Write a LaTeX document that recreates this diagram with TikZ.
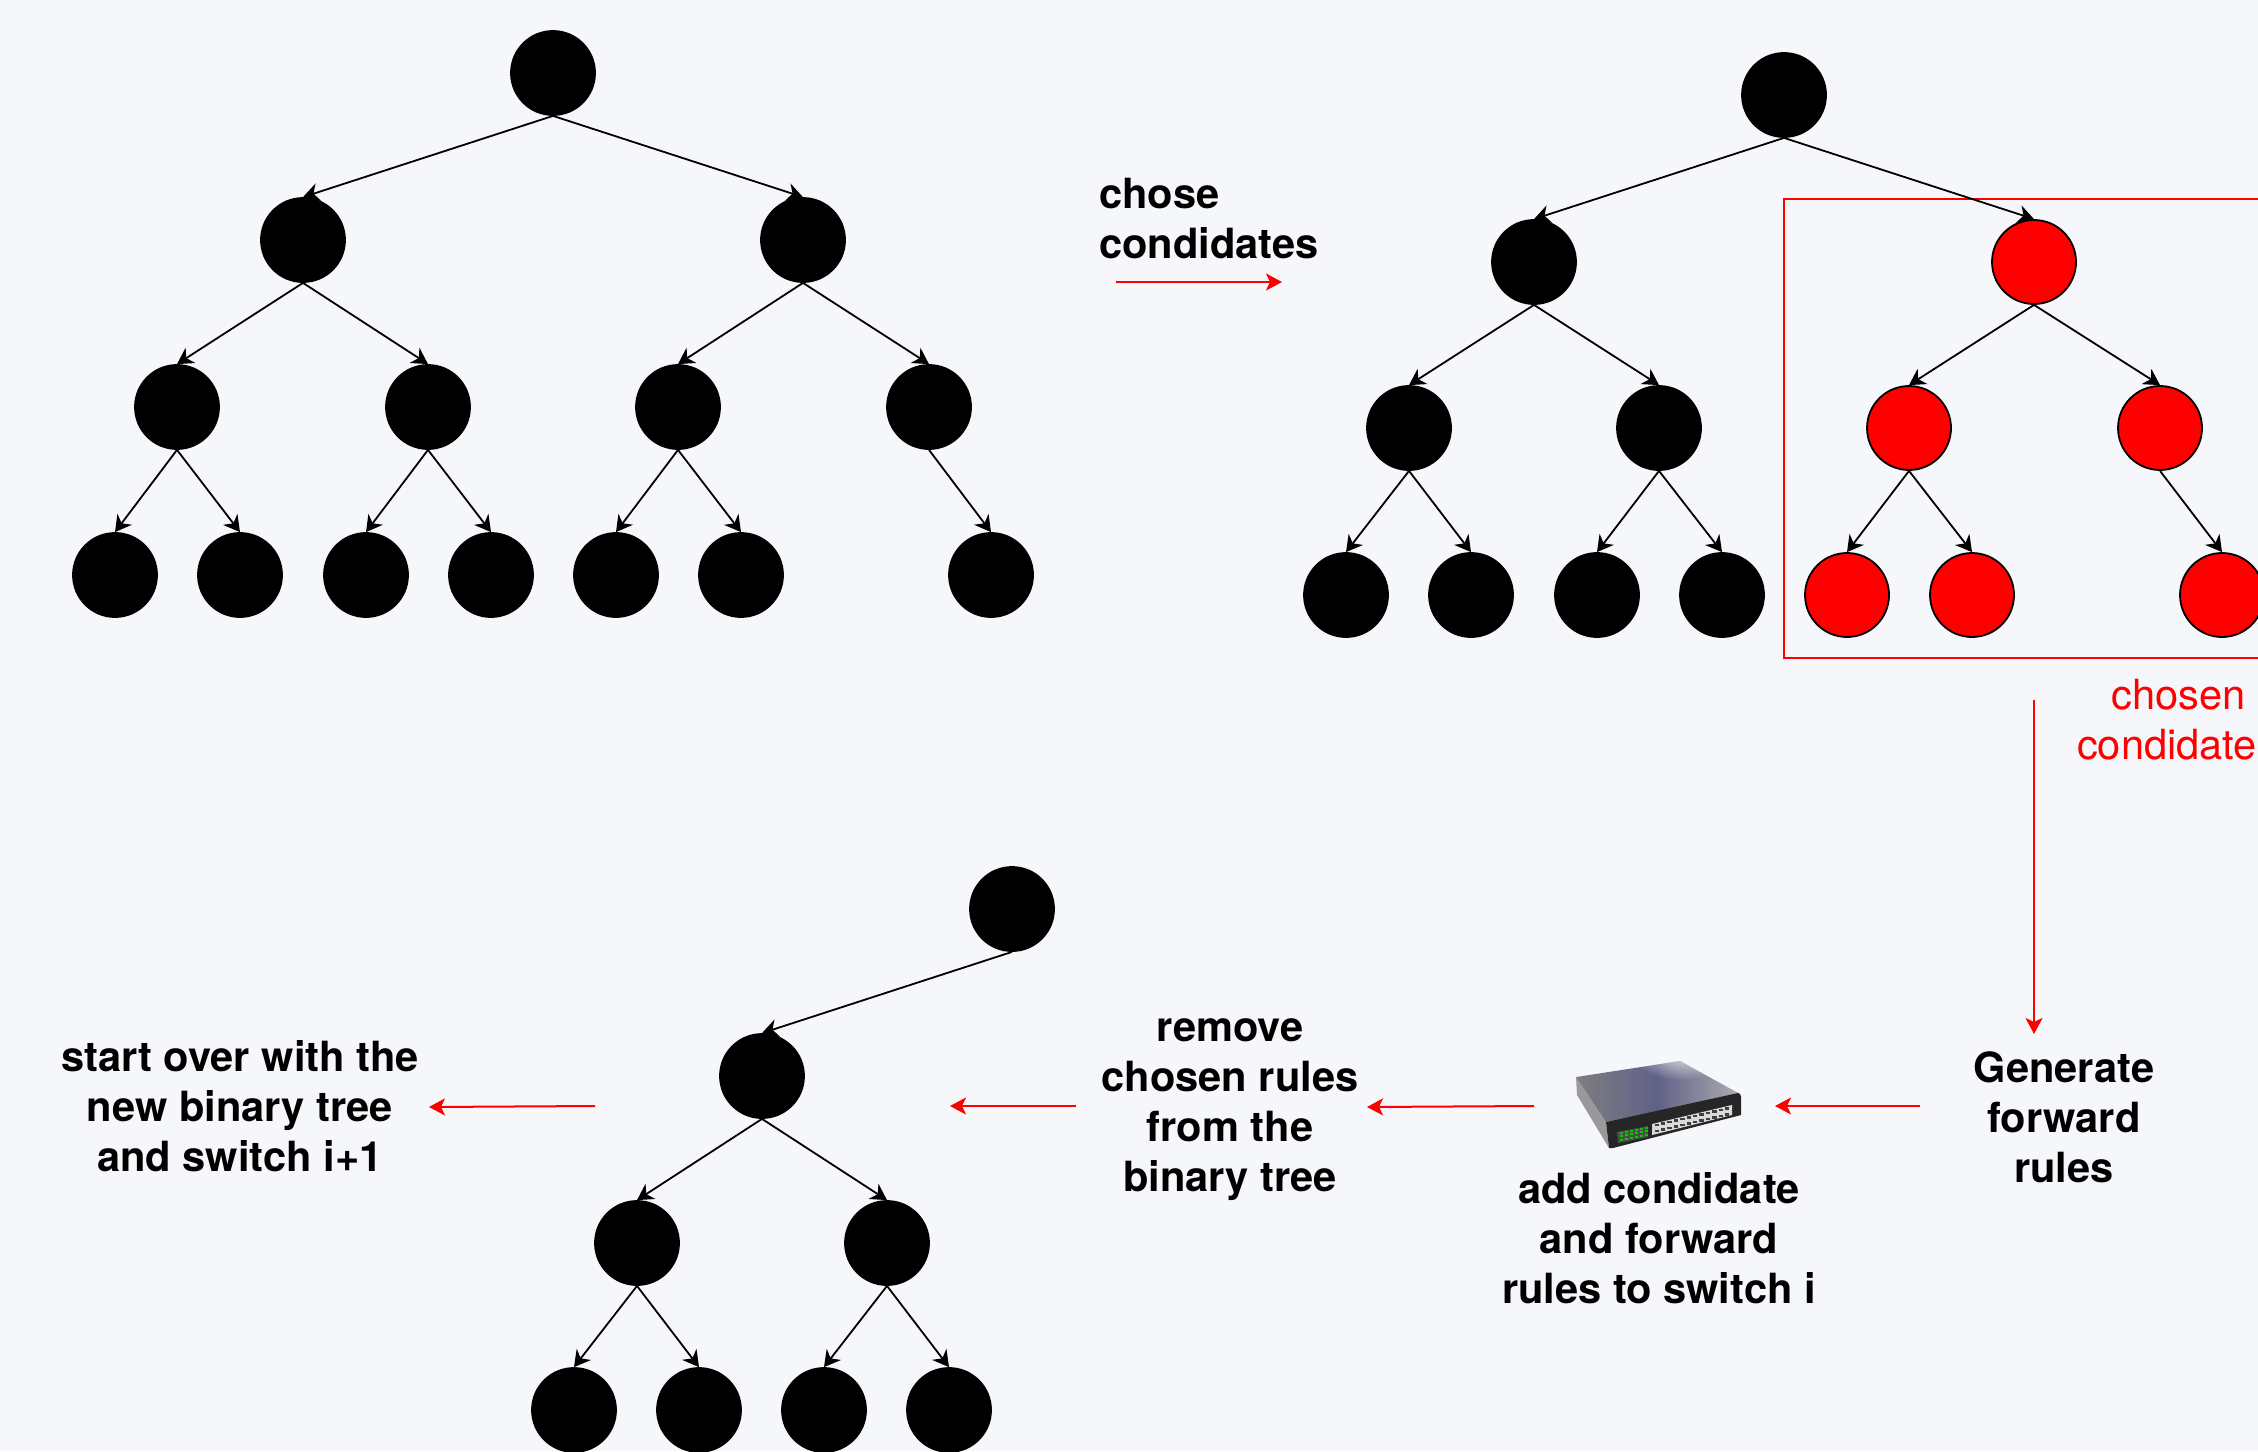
\documentclass[tikz,border=0pt]{standalone}
\usepackage{xcolor}
\usepackage{fontspec}
\setmainfont{TeX Gyre Heros}
\usetikzlibrary{arrows.meta,fadings}
\definecolor{pagebg}{HTML}{F5F7FB}
\tikzfading[name=glow,inner color=transparent!15,outer color=transparent!100]
\tikzset{
x=.5pt,y=-.5pt,
treenode/.style={circle,draw=black,fill=black,line width=.9pt,minimum size=42pt,inner sep=0pt},
rednode/.style={treenode,fill=red},
treeedge/.style={draw=black,line width=.9pt,-{Stealth[length=8pt,width=9pt,inset=2.5pt]}},
redarrow/.style={draw=red,line width=1pt,-{Stealth[length=8pt,width=8.5pt,inset=2pt]}},
steptext/.style={align=center,inner sep=0pt,font=\fontsize{20.8}{25}\selectfont\bfseries},
redtext/.style={align=center,inner sep=0pt,text=red,font=\fontsize{20.8}{25}\selectfont},
}

\begin{document}
\begin{tikzpicture}
\useasboundingbox (0,0) rectangle (2258,1451);
\fill[pagebg] (0,0) rectangle (2258,1451);
% the red box
\draw[red,line width=.9pt] (2300,199) -- (1784,199) -- (1784,658) -- (2300,658);
% the trees
\foreach \name/\x/\y in {
  a0/553/73,a1/303/240,a2/803/240,a3/177/407,a4/428/407,a5/678/407,a6/929/407,
  a7/115/575,a8/240/575,a9/366/575,a10/491/575,a11/616/575,a12/741/575,a13/991/575,
  b0/1784/95,b1/1534/262,b3/1409/428,b4/1659/428,
  b7/1346/595,b8/1471/595,b9/1597/595,b10/1722/595,
  c0/1012/909,c1/762/1076,c3/637/1243,c4/887/1243,
  c7/574/1410,c8/699/1410,c9/824/1410,c10/949/1410}
{
  \node[treenode] (\name) at (\x,\y) {};
}
\foreach \name/\x/\y in {
  b2/2034/262,b5/1909/428,b6/2160/428,b11/1847/595,b12/1972/595,b13/2222/595}
{
  \node[rednode] (\name) at (\x,\y) {};
}
% the edges
\foreach \t in {a,b}
{
  \foreach \from/\to in {0/1,0/2,1/3,1/4,2/5,2/6,3/7,3/8,4/9,4/10,5/11,5/12,6/13}
  {
    \draw[treeedge] (\t\from.south) -- (\t\to.north);
  }
}
\foreach \from/\to in {0/1,1/3,1/4,3/7,3/8,4/9,4/10}
{
  \draw[treeedge] (c\from.south) -- (c\to.north);
}
% the labels
\node[steptext,align=left,anchor=west] (chose) at (1099,219) {chose\\condidates};
\node[redtext] (chosen) at (2167,720) {\hspace*{11.5pt}chosen\\condidate};
\node[steptext] (generate) at (2064,1117) {Generate\\forward\\rules};
\node[steptext] (addrules) at (1659,1238) {add condidate\\and forward\\rules to switch i};
\node[steptext] (remove) at (1230,1110) {remove\\chosen rules\\from the\\binary tree};
\node[steptext] (startover) at (240,1106) {start over with the\\new binary tree\\and switch i+1};
% the red arrows
\coordinate (s1) at (1116,282);
\coordinate (e1) at (1282,282);
\coordinate (s2) at (2034,700);
\coordinate (e2) at (2034,1034);
\coordinate (s3) at (1920,1106);
\coordinate (e3) at (1775,1106);
\coordinate (s4) at (1534,1106);
\coordinate (e4) at (1367,1107);
\coordinate (s5) at (1076,1106);
\coordinate (e5) at (950,1106);
\coordinate (s6) at (595,1106);
\coordinate (e6) at (429,1107);
\foreach \x in {1,...,6}
{
  \draw[redarrow] (s\x) -- (e\x);
}
% the switch
\fill[black!40] (1576,1077) -- (1606,1122) -- (1609,1148) -- (1577,1095) -- cycle;
\begin{scope}
\clip (1576,1077) -- (1680,1061) -- (1740,1094) -- (1606,1122) -- cycle;
\shade[left color=black!50,right color=black!30,middle color=blue!25!black!62] (1570,1055) rectangle (1745,1125);
\fill[white,path fading=glow] (1680,1050) ellipse (50 and 30);
\end{scope}
\fill[black!85] (1606,1122) -- (1738,1093) .. controls (1740,1093) and (1741,1095) .. (1741,1097)
  -- (1741,1115) -- (1613,1148) -- (1609,1148) -- cycle;
\fill[black!15] (1652,1124) -- (1732,1105) -- (1732,1115) -- (1652,1135) -- cycle;
\foreach \i in {0,...,11}
{
  \fill[black!75] ({1654.5+6.4*\i},{1123.5-1.5*\i}) rectangle +(4.5,2.6);
  \fill[black!75] ({1654.5+6.4*\i},{1129.5-1.5*\i}) rectangle +(4.5,2.6);
}
\fill[black!70] (1617,1132) -- (1648,1126) -- (1648,1137) -- (1618,1143) -- cycle;
\foreach \i in {0,...,5}
{
  \foreach \j in {0,1,2}
  {
    \fill[green!80!black] ({1620+5*\i},{1131.5+3.6*\j-1*\i}) rectangle +(2.6,2.2);
  }
}
\end{tikzpicture}
\end{document}
